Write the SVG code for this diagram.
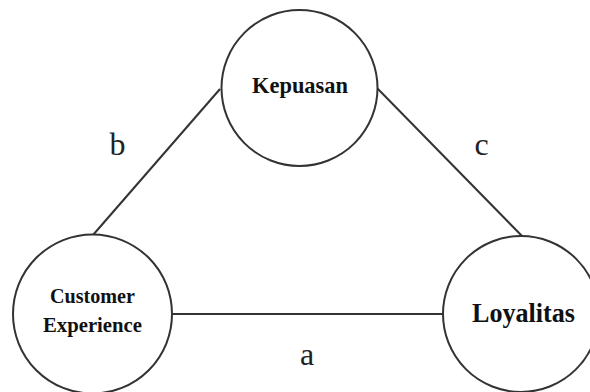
<svg xmlns="http://www.w3.org/2000/svg" width="590" height="392" viewBox="0 0 590 392">
<style>
.node{fill:#fff;stroke:#333;stroke-width:2}
.edge{stroke:#333;stroke-width:2;fill:none}
.lbl{font-family:"Liberation Serif","Times New Roman",serif;font-weight:bold;fill:#111;text-anchor:middle}
.el{font-family:"Liberation Serif","Times New Roman",serif;fill:#222;text-anchor:middle;font-size:32px}
</style>
<rect width="590" height="392" fill="#fff"/>
<g id="connectors">
<line class="edge" x1="93" y1="235" x2="220" y2="89"/>
<line class="edge" x1="377" y1="88" x2="522" y2="236"/>
<line class="edge" x1="172" y1="314" x2="443" y2="314"/>
<text class="el" x="117.5" y="155">b</text>
<text class="el" x="481.5" y="155">c</text>
<text class="el" x="307" y="365">a</text>
</g>
<g id="kepuasan">
<circle class="node" cx="299.5" cy="88" r="78"/>
<text class="lbl" x="300" y="93" font-size="24" textLength="96" lengthAdjust="spacingAndGlyphs">Kepuasan</text>
</g>
<g id="customer-experience">
<circle class="node" cx="92.5" cy="314" r="79.5"/>
<text class="lbl" x="92.5" y="303" font-size="21" textLength="85" lengthAdjust="spacingAndGlyphs">Customer</text>
<text class="lbl" x="92.5" y="332" font-size="21" textLength="99" lengthAdjust="spacingAndGlyphs">Experience</text>
</g>
<g id="loyalitas">
<circle class="node" cx="521" cy="314" r="78"/>
<text class="lbl" x="523.5" y="322" font-size="27" textLength="103" lengthAdjust="spacingAndGlyphs">Loyalitas</text>
</g>
</svg>
